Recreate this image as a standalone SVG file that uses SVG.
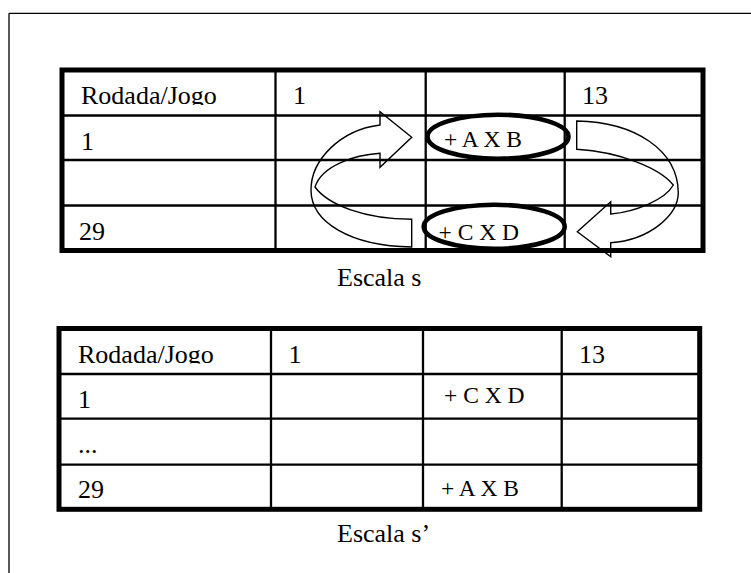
<svg xmlns="http://www.w3.org/2000/svg" width="751" height="573" viewBox="0 0 751 573">
<style>
.frame{stroke:#000;stroke-width:1.3;fill:none}
.outer{stroke:#000;stroke-width:5;fill:none}
.grid{stroke:#000;stroke-width:2.3;fill:none}
.t{font-family:"Liberation Serif","Times New Roman",serif;font-size:26px;fill:#000}
.s{font-family:"Liberation Serif","Times New Roman",serif;font-size:23.5px;fill:#000}
.ring{stroke:#000;stroke-width:4.6;fill:none}
.arrow{stroke:#000;stroke-width:1.4;fill:none;stroke-linejoin:miter}
</style>
<defs>
<clipPath id="hdr1"><rect x="62" y="70" width="641" height="35"/></clipPath>
<clipPath id="hdr2"><rect x="59" y="328.5" width="641" height="35"/></clipPath>
</defs>
<rect width="751" height="573" fill="#fff"/>
<g id="frame">
<line class="frame" x1="9" y1="13.3" x2="760" y2="13.3"/>
<line class="frame" x1="9" y1="13.3" x2="9" y2="580"/>
</g>
<g id="table-s">
<line class="grid" x1="275.5" y1="70" x2="275.5" y2="250.5"/>
<line class="grid" x1="425.7" y1="70" x2="425.7" y2="250.5"/>
<line class="grid" x1="564.7" y1="70" x2="564.7" y2="250.5"/>
<line class="grid" x1="62" y1="115.5" x2="703" y2="115.5"/>
<line class="grid" x1="62" y1="160" x2="703" y2="160"/>
<line class="grid" x1="62" y1="205.5" x2="703" y2="205.5"/>
<rect class="outer" x="62" y="70" width="641" height="180.5"/>
<g clip-path="url(#hdr1)">
<text class="t" x="81" y="104">Rodada/Jogo</text>
<text class="t" x="293" y="104">1</text>
<text class="t" x="582" y="104">13</text>
</g>
<text class="t" x="81" y="149.5">1</text>
<text class="t" x="79" y="239.5">29</text>
</g>
<g id="game-AXB">
<ellipse class="ring" cx="498" cy="136.7" rx="70.5" ry="22"/>
<text class="s" x="444" y="147.3">+ A X B</text>
</g>
<g id="game-CXD">
<ellipse class="ring" cx="494.2" cy="226.7" rx="70.5" ry="22"/>
<text class="s" x="438.5" y="240">+ C X D</text>
</g>
<g id="label-s">
<text class="t" x="337" y="286">Escala s</text>
</g>
<g id="table-s2">
<line class="grid" x1="271" y1="328.5" x2="271" y2="509.3"/>
<line class="grid" x1="423" y1="328.5" x2="423" y2="509.3"/>
<line class="grid" x1="561.7" y1="328.5" x2="561.7" y2="509.3"/>
<line class="grid" x1="59" y1="374" x2="699.7" y2="374"/>
<line class="grid" x1="59" y1="418.7" x2="699.7" y2="418.7"/>
<line class="grid" x1="59" y1="464.7" x2="699.7" y2="464.7"/>
<rect class="outer" x="59" y="328.5" width="640.7" height="180.8"/>
<g clip-path="url(#hdr2)">
<text class="t" x="78" y="362.5">Rodada/Jogo</text>
<text class="t" x="288.5" y="362.5">1</text>
<text class="t" x="579" y="362.5">13</text>
</g>
<text class="t" x="78" y="408.3">1</text>
<text class="t" x="78" y="453.3">...</text>
<text class="t" x="78" y="498">29</text>
<text class="s" x="444" y="403.3">+ C X D</text>
<text class="s" x="441" y="496">+ A X B</text>
</g>
<g id="label-s2">
<text class="t" x="337" y="541.5">Escala s’</text>
</g>
<g id="connectors">
<path class="arrow" d="M 411.7 219.3 C 365 219 328 205 315 187 C 322 165 355 155 380 153.3 L 380 167.3 L 411.7 137.3 L 380 111.7 L 380 125 C 340 130 311 160 311 190 C 311 222 350 246 411.7 247 Z"/>
<path class="arrow" d="M 576.7 121 C 635 122 678 150 678.3 193 C 678 215 650 240 610.7 242.7 L 610.7 256.7 L 577.3 231.7 L 610.7 201.7 L 610.7 214 C 635 212 665 200 673.3 185 C 660 168 620 152 576.7 149.3 Z"/>
</g>
</svg>
